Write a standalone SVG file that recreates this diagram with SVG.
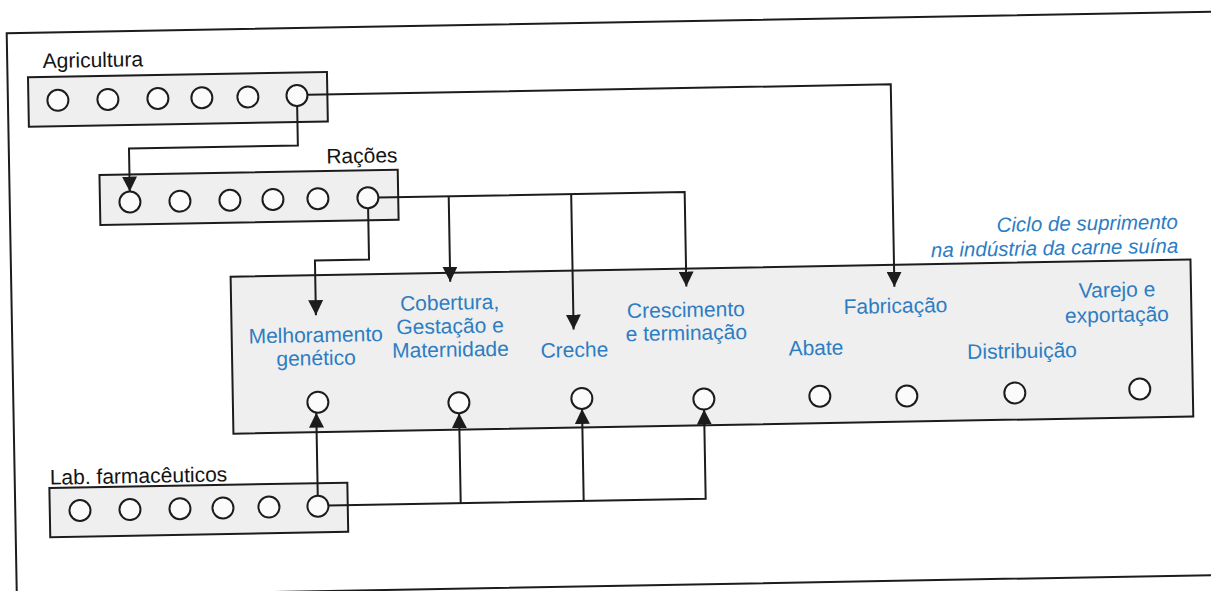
<svg xmlns="http://www.w3.org/2000/svg" width="1211" height="591" viewBox="0 0 1211 591">
<style>
.box{fill:#efefef;stroke:#1c1c1c;stroke-width:2}
.frame{fill:none;stroke:#1c1c1c;stroke-width:2}
.dot{fill:#fbfbfb;stroke:#1c1c1c;stroke-width:2}
.lbl{font-family:"Liberation Sans",Arial,sans-serif;font-size:21px;fill:#141414}
.stg{font-family:"Liberation Sans",Arial,sans-serif;font-size:21px;fill:#2d7dc3;text-anchor:middle}
.ttl{font-family:"Liberation Sans",Arial,sans-serif;font-size:20.5px;fill:#2d7dc3;font-style:italic;text-anchor:end}
.con{fill:none;stroke:#1c1c1c;stroke-width:2}
</style>
<defs>
<marker id="ah" markerUnits="userSpaceOnUse" markerWidth="15" markerHeight="15" viewBox="0 0 15 15" refX="15" refY="7.5" orient="auto"><path d="M0,0 L15,7.5 L0,15 z" fill="#1c1c1c"/></marker>
</defs>
<rect width="1211" height="591" fill="#ffffff"/>
<g transform="rotate(-1.03 605 295)">
<rect class="frame" x="11.5" y="22.6" width="1240" height="563.4"/>

<g id="agricultura">
<text class="lbl" x="47" y="58">Agricultura</text>
<rect class="box" x="32" y="67" width="299" height="49.5"/>
<circle class="dot" cx="61.5" cy="90.5" r="10.5"/>
<circle class="dot" cx="111.5" cy="90.5" r="10.5"/>
<circle class="dot" cx="161.5" cy="90.5" r="10.5"/>
<circle class="dot" cx="205.5" cy="90.5" r="10.5"/>
<circle class="dot" cx="251.5" cy="90.5" r="10.5"/>
<circle class="dot" cx="300.6" cy="90" r="10.5"/>
</g>

<g id="racoes">
<text class="lbl" x="400" y="158.5" text-anchor="end">Rações</text>
<rect class="box" x="101.7" y="166" width="298.3" height="50"/>
<circle class="dot" cx="131.7" cy="193.5" r="10.5"/>
<circle class="dot" cx="181.7" cy="193.5" r="10.5"/>
<circle class="dot" cx="231.7" cy="193.5" r="10.5"/>
<circle class="dot" cx="274.7" cy="193.5" r="10.5"/>
<circle class="dot" cx="319.7" cy="193.5" r="10.5"/>
<circle class="dot" cx="369.7" cy="193.5" r="10.5"/>
</g>

<g id="ciclo">
<text class="ttl" x="1179" y="239">Ciclo de suprimento</text>
<text class="ttl" x="1179" y="263">na indústria da carne suína</text>
<rect class="box" x="231" y="270" width="960" height="157"/>
</g>

<g id="melhoramento">
<text class="stg" x="315" y="337">Melhoramento</text>
<text class="stg" x="315" y="360">genético</text>
<circle class="dot" cx="316" cy="397" r="10.5"/>
</g>
<g id="cobertura">
<text class="stg" x="449.5" y="307">Cobertura,</text>
<text class="stg" x="449.5" y="330.5">Gestação e</text>
<text class="stg" x="449.5" y="354">Maternidade</text>
<circle class="dot" cx="457" cy="400" r="10.5"/>
</g>
<g id="creche">
<text class="stg" x="573.4" y="356.5">Creche</text>
<circle class="dot" cx="580" cy="398" r="10.5"/>
</g>
<g id="crescimento">
<text class="stg" x="685.6" y="318.5">Crescimento</text>
<text class="stg" x="685.6" y="341.5">e terminação</text>
<circle class="dot" cx="702" cy="400.8" r="10.5"/>
</g>
<g id="abate">
<text class="stg" x="815" y="358.8">Abate</text>
<circle class="dot" cx="818" cy="400" r="10.5"/>
</g>
<g id="fabricacao">
<text class="stg" x="895.2" y="318.2">Fabricação</text>
<circle class="dot" cx="905" cy="401.4" r="10.5"/>
</g>
<g id="distribuicao">
<text class="stg" x="1021" y="365.5">Distribuição</text>
<circle class="dot" cx="1013" cy="400.3" r="10.5"/>
</g>
<g id="varejo">
<text class="stg" x="1117" y="306.2">Varejo e</text>
<text class="stg" x="1116.5" y="331.2">exportação</text>
<circle class="dot" cx="1138" cy="398.6" r="10.5"/>
</g>

<g id="lab">
<text class="lbl" x="46.6" y="474.6">Lab. farmacêuticos</text>
<rect class="box" x="46" y="478" width="298" height="49.2"/>
<circle class="dot" cx="76.2" cy="501" r="10.5"/>
<circle class="dot" cx="126.2" cy="501" r="10.5"/>
<circle class="dot" cx="176.2" cy="501" r="10.5"/>
<circle class="dot" cx="219.2" cy="501" r="10.5"/>
<circle class="dot" cx="265.2" cy="501" r="10.5"/>
<circle class="dot" cx="314.2" cy="501" r="10.5"/>
</g>

<g id="connectors">
<path class="con" d="M300.6,100.5 V140 H131.7 V183" marker-end="url(#ah)"/>
<path class="con" d="M311.1,89.5 H894.5 V292" marker-end="url(#ah)"/>
<path class="con" d="M380.2,193.5 H686.5 V288" marker-end="url(#ah)"/>
<path class="con" d="M450.5,193.5 V279" marker-end="url(#ah)"/>
<path class="con" d="M573,193.5 V329" marker-end="url(#ah)"/>
<path class="con" d="M369.7,204 V255.3 H315.6 V310" marker-end="url(#ah)"/>
<path class="con" d="M314.2,490.5 V407.5" marker-end="url(#ah)"/>
<path class="con" d="M324.7,500.5 H702 V411.3" marker-end="url(#ah)"/>
<path class="con" d="M457,500.5 V410.5" marker-end="url(#ah)"/>
<path class="con" d="M580,500.5 V408.5" marker-end="url(#ah)"/>
</g>
</g>
</svg>
